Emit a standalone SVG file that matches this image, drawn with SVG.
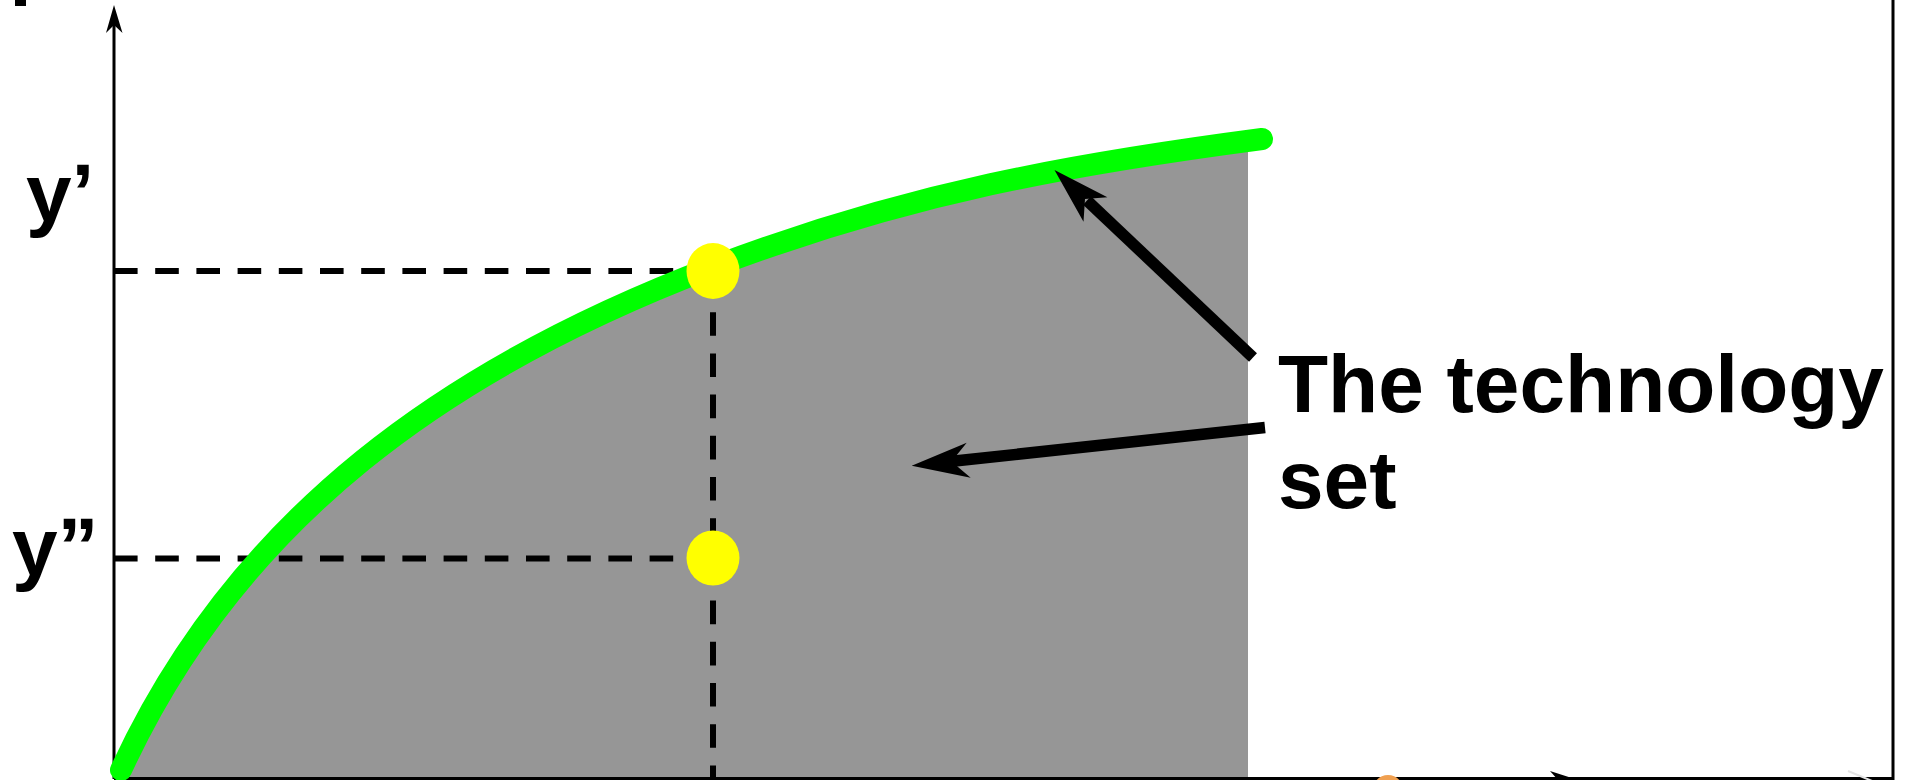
<svg xmlns="http://www.w3.org/2000/svg" width="1908" height="780" viewBox="0 0 1908 780">
<style>
.lbl{font-family:"Liberation Sans",Arial,sans-serif;font-weight:bold;font-size:82px;fill:#000}
.dash{stroke:#000;stroke-width:6;stroke-dasharray:23.6 17.6;fill:none}
.ax{stroke:#000;stroke-width:3;fill:none}
.arr{stroke:#000;stroke-width:11.5;fill:none}
.dot{fill:#ffff00}
</style>
<defs>
<clipPath id="clipRegion"><rect x="114" y="0" width="1134" height="778"/></clipPath>
</defs>
<rect width="1908" height="780" fill="#fff"/>
<g id="technology-set-region">
<path d="M121,770 C238.6,515.2 451.2,366.4 713,267 C909.4,192.5 1073.7,163.7 1262,139 L1262,778 L114,778 L114,770 Z" fill="#969696" clip-path="url(#clipRegion)"/>
</g>
<g id="axes">
<line class="ax" x1="114" y1="779" x2="114" y2="22"/>
<polygon points="114,5 106,33 114,25 122.5,33" fill="#000"/>
<line x1="114" y1="778.5" x2="1893" y2="778.5" stroke="#000" stroke-width="3"/>
<line x1="1893" y1="0" x2="1893" y2="780" stroke="#000" stroke-width="3"/>
</g>
<g id="guides">
<line class="dash" x1="114" y1="271" x2="674" y2="271"/>
<line class="dash" x1="114" y1="558.5" x2="674" y2="558.5"/>
<line class="dash" x1="713" y1="271" x2="713" y2="780"/>
</g>
<g id="frontier">
<path d="M121,770 C238.6,515.2 451.2,366.4 713,267 C909.4,192.5 1073.7,163.7 1262,139" fill="none" stroke="#00ff00" stroke-width="22" stroke-linecap="round"/>
</g>
<g id="point-y1"><ellipse class="dot" cx="713" cy="271" rx="26.5" ry="28"/></g>
<g id="point-y2"><ellipse class="dot" cx="713" cy="558" rx="26.5" ry="27.5"/></g>
<g id="label-y1"><text class="lbl" x="26" y="221">y’</text></g>
<g id="label-y2"><text class="lbl" x="12" y="575">y”</text></g>
<g id="label-set"><text class="lbl" x="1278" y="412">The technology</text><text class="lbl" x="1278" y="508">set</text></g>
<g id="connectors">
<line class="arr" x1="1253" y1="357.5" x2="1087" y2="200.5"/>
<polygon points="1054.5,170 1107.4,197.3 1085,199 1083.5,221.7" fill="#000"/>
<line class="arr" x1="1265" y1="427.5" x2="950" y2="461.5"/>
<polygon points="911.7,465.7 966.7,442.7 951.5,461.4 970.7,477.7" fill="#000"/>
</g>
<g id="fragments">
<rect x="15" y="0" width="11" height="6" fill="#000"/>
<ellipse cx="1388" cy="792" rx="16" ry="17" fill="#f0a050"/>
<polygon points="1550,771 1578,780 1558,780" fill="#000"/>
<line x1="1848" y1="771" x2="1877" y2="783" stroke="#e4e4e4" stroke-width="2"/>
</g>
</svg>
